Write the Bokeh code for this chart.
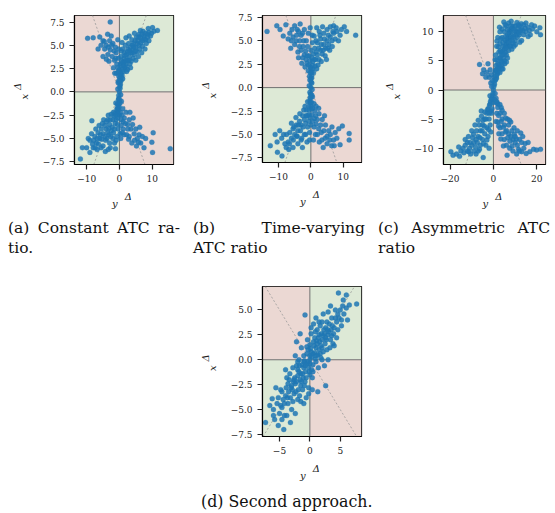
from bokeh.plotting import figure
from bokeh.models import BoxAnnotation, Span, Slope, FixedTicker, Range1d, Div, Spacer, Title
from bokeh.layouts import row, column
from bokeh.embed import file_html
from bokeh.resources import INLINE

# ---------------- data ----------------
a_pts = [
 (0,0),(0.2,0.4),(-0.2,-0.4),(0.3,0.8),(-0.3,-0.8),(0.5,1.2),(-0.4,1.0),(0.6,-1.0),(-0.6,-1.3),(0.1,1.5),(-0.1,-1.6),(0.8,1.8),(-0.8,-1.9),(1.0,1.4),(-1.1,-1.2),(0.4,-0.3),(-0.5,0.3),(1.2,2.2),(-1.3,-2.3),(-0.9,2.0),(1.0,-1.8),(0.0,2.4),(0.0,-2.5),(1.6,2.6),(-1.7,-2.6),
 (0.1,0.6),(-0.1,-0.7),(0.3,1.3),(-0.3,-1.4),(0.5,2.0),(-0.5,-2.1),(0.0,1.0),(0.0,-1.0),(0.6,1.6),(-0.6,-1.7),(-0.2,1.2),(0.2,-1.2),
 (2.0,3.0),(2.5,3.4),(1.5,3.2),(3.0,3.8),(2.2,4.0),(3.5,4.2),(4.0,4.5),(3.2,3.0),(4.5,4.0),(5.0,4.8),(5.5,5.2),(4.8,5.5),(6.0,5.0),(6.5,5.8),(7.0,5.5),(7.5,6.0),(8.0,5.6),(8.5,6.2),(9.0,6.4),(9.5,6.0),(10.1,6.9),(11.6,6.6),(10.5,6.5),(7.2,6.5),(6.0,6.2),(5.2,5.9),(3.8,5.6),(2.8,5.2),(1.8,5.0),(1.0,4.6),(0.5,3.8),(0.8,5.3),(1.5,4.2),(2.5,2.4),(3.6,3.3),(4.2,3.6),(5.4,4.3),(6.2,4.6),(7.0,4.9),(8.2,5.2),(9.0,5.5),(4.6,6.3),(3.0,6.0),(2.0,5.8),(5.8,3.8),(6.8,4.2),(3.4,2.6),(1.2,2.8),(0.3,3.0),(0.6,4.4),(2.6,4.6),(4.0,5.0),(5.0,3.4),(7.8,4.6),(8.8,6.8),(9.8,6.3),(6.4,6.6),(1.4,3.6),(2.2,2.2),(0.9,2.4),
 (0.2,1.9),(-0.2,1.7),(0.4,2.8),(-0.5,2.6),(0.7,3.3),(1.7,3.9),(2.4,4.3),(3.3,4.8),(4.3,5.2),(5.6,5.5),(6.6,5.3),(7.6,5.7),(8.6,5.9),(3.9,4.2),(4.9,4.4),(2.9,3.4),(1.9,2.7),(5.9,5.9),(6.9,6.2),(7.9,6.3),(1.1,3.2),(2.1,3.4),(3.1,4.4),(4.4,4.8),
 (-0.8,3.0),(-1.5,3.4),(-2.2,3.8),(-1.0,4.2),(-2.8,4.5),(-3.5,4.0),(-4.0,5.0),(-3.0,5.5),(-2.0,5.2),(-5.0,5.5),(-6.0,5.9),(-9.7,5.75),(-8.0,5.8),(-4.5,4.6),(-5.0,3.8),(-3.2,3.3),(-1.8,2.6),(-2.5,6.0),(-0.5,5.6),(-1.2,4.8),(-4.0,3.5),(-6.5,4.6),(-2.8,7.5),(-0.3,2.2),(-1.4,2.0),(-3.6,6.2),(-5.6,5.0),
 (-0.3,3.6),(-1.1,3.6),(-1.6,4.4),(-2.4,5.0),(-3.4,4.8),(-4.6,5.4),(-0.2,4.6),
 (-2.0,-3.0),(-2.5,-2.4),(-3.0,-3.5),(-3.5,-3.0),(-4.0,-4.0),(-4.5,-3.6),(-5.0,-4.5),(-5.5,-4.0),(-6.0,-5.0),(-6.5,-4.4),(-7.0,-5.5),(-7.5,-4.8),(-8.0,-6.0),(-8.4,-3.1),(-9.0,-5.2),(-10.0,-6.0),(-11.3,-6.0),(-11.9,-7.2),(-4.3,-6.4),(-1.2,-6.1),(-3.0,-5.5),(-2.0,-5.0),(-1.5,-4.0),(-1.0,-3.0),(-0.5,-2.8),(-0.8,-4.8),(-2.5,-4.2),(-3.8,-5.0),(-5.0,-5.8),(-6.2,-3.6),(-7.2,-4.0),(-8.5,-4.5),(-9.5,-5.0),(-4.8,-3.0),(-3.4,-2.5),(-1.8,-2.2),(-6.8,-6.2),(-5.6,-6.0),(-2.8,-6.0),(-4.2,-5.2),(-3.2,-4.6),(-1.5,-5.5),(-0.4,-4.0),(-0.6,-3.5),(-7.8,-5.2),(-9.0,-6.5),(-5.2,-3.4),
 (-0.3,-1.9),(-0.5,-2.3),(-1.3,-3.4),(-2.2,-3.8),(-2.8,-3.0),(-3.6,-4.4),(-4.4,-4.8),(-5.4,-5.1),(-6.4,-5.6),(-7.4,-6.0),(-3.2,-3.9),(-4.0,-3.2),(-5.8,-4.6),(-6.8,-5.0),(-2.6,-4.8),(-1.8,-4.4),(-1.0,-5.2),(-3.4,-6.2),(-8.2,-5.6),(-1.1,-2.5),
 (0.8,-2.5),(1.5,-2.8),(2.0,-2.2),(2.5,-3.5),(3.0,-3.0),(3.5,-4.0),(4.0,-3.5),(4.5,-4.5),(5.0,-4.0),(5.5,-5.0),(6.0,-4.6),(6.5,-5.5),(7.0,-4.8),(2.8,-5.1),(10.3,-4.4),(9.9,-5.4),(10.1,-6.5),(15.5,-6.1),(1.2,-4.0),(0.5,-3.6),(2.2,-4.6),(3.8,-5.5),(5.2,-5.8),(0.4,-5.0),(1.8,-3.4),(4.2,-2.8),(6.2,-3.8),(8.0,-5.0),(7.5,-6.0),(3.2,-2.2),
 (0.3,-2.2),(0.6,-3.0),(1.1,-3.2),(1.4,-4.6),(2.6,-4.0),(3.0,-4.8),(4.6,-5.2),(5.8,-5.4),(0.9,-4.4),(0.2,-4.5),
]
b_pts = [
 (0,0),(0.3,0.5),(-0.3,-0.5),(0.2,1.0),(-0.4,1.2),(0.5,-1.0),(-0.2,-1.1),(0.8,1.6),(-0.8,1.8),(0.9,-1.7),(-1.0,-1.5),(0.1,2.0),(0.0,-2.0),(1.3,2.3),(-1.4,-2.4),(-1.2,2.6),(1.2,-2.5),(0.4,-0.2),(-0.5,0.2),(0.6,2.8),(-0.6,-2.9),
 (0.1,0.6),(-0.1,-0.7),(0.3,1.3),(-0.3,-1.4),(0.0,1.0),(0.0,-1.0),(-0.2,1.6),(0.2,-1.6),(0.6,2.0),(-0.6,-2.0),(-0.3,0.8),(0.3,-0.8),
 (1.5,3.0),(2.0,3.5),(2.5,3.0),(3.0,4.0),(3.5,3.6),(4.0,4.6),(4.5,4.2),(5.0,5.0),(5.5,4.6),(6.0,5.4),(6.5,5.0),(7.0,5.8),(7.5,5.2),(8.0,6.0),(9.0,5.6),(10.3,6.5),(13.8,5.6),(11.0,6.0),(2.0,4.8),(1.2,4.2),(0.8,3.6),(3.0,5.2),(4.0,5.8),(5.0,6.2),(6.0,6.5),(2.2,2.4),(3.2,2.8),(4.4,3.4),(5.8,4.0),(1.0,5.5),(0.5,4.8),(2.6,6.0),(3.6,6.5),(7.0,6.6),(8.5,5.0),(4.8,3.0),(1.8,2.0),(6.6,4.4),
 (-1.5,3.0),(-2.0,3.5),(-2.5,3.2),(-3.0,4.0),(-3.5,4.4),(-4.0,3.8),(-4.5,5.0),(-5.0,4.6),(-5.5,5.4),(-6.0,5.0),(-6.5,5.8),(-7.0,5.2),(-7.7,6.7),(-3.3,6.8),(-13.5,6.0),(-9.5,6.2),(-8.5,5.5),(-2.2,5.0),(-1.0,4.4),(-3.0,5.6),(-4.2,6.2),(-5.0,6.6),(-2.8,2.6),(-1.8,2.2),(-0.6,3.4),(-0.8,5.8),(-6.2,4.2),(-3.8,3.2),(-10.5,6.6),(-2.0,6.2),
 (0.2,1.6),(-0.2,2.2),(0.5,2.4),(-0.7,2.4),(0.3,3.2),(-0.3,2.9),(1.1,3.0),(-1.1,3.4),(1.6,3.8),(-1.6,3.9),(2.4,4.2),(-2.4,4.4),(3.2,4.6),(-3.4,5.0),(4.2,5.2),(-4.4,5.6),(5.4,5.6),(-5.8,6.2),(6.8,6.0),(0.0,4.0),(0.4,5.6),(1.6,5.0),(2.8,5.6),(3.8,4.0),(5.2,4.2),(-1.4,5.0),(-2.6,5.8),(-3.8,6.0),(-0.2,6.4),(1.8,6.4),(7.8,6.4),(9.4,6.2),
 (-1.5,-3.0),(-2.0,-3.4),(-2.5,-3.0),(-3.0,-4.0),(-3.5,-3.6),(-4.0,-4.6),(-4.5,-4.0),(-5.0,-5.0),(-5.5,-4.4),(-6.0,-5.4),(-6.5,-4.8),(-7.0,-5.8),(-7.5,-5.0),(-8.0,-6.0),(-9.0,-5.4),(-12.5,-6.2),(-10.3,-6.9),(-8.9,-7.3),(-11.0,-5.0),(-2.0,-5.0),(-1.0,-4.2),(-0.6,-3.6),(-3.0,-5.6),(-4.0,-6.0),(-5.5,-6.4),(-2.2,-2.4),(-3.4,-2.8),(-4.6,-3.2),(-6.0,-3.8),(-1.2,-5.8),(-0.4,-4.8),(-2.6,-6.4),(-6.8,-6.6),(-9.6,-4.6),(-4.4,-5.2),(-1.8,-2.0),
 (-0.2,-1.6),(0.2,-2.3),(-0.6,-2.4),(0.6,-2.2),(-0.3,-3.2),(0.3,-2.9),(-1.1,-3.0),(1.1,-3.3),(-1.6,-3.8),(1.6,-3.9),(-2.4,-4.2),(2.4,-4.4),(-3.2,-4.6),(3.2,-4.8),(-4.2,-5.2),(4.4,-5.4),(-5.4,-5.6),(-6.6,-6.0),(-7.6,-6.4),(0.0,-4.0),(-0.4,-5.6),(-1.6,-5.0),(-2.8,-5.4),(-3.8,-4.0),(-5.2,-4.2),(1.4,-5.0),(2.6,-5.8),(5.8,-5.6),(7.2,-6.2),(-8.4,-5.0),(-10.4,-5.8),
 (1.5,-3.0),(2.0,-3.4),(2.5,-2.8),(3.0,-4.0),(3.5,-3.4),(4.0,-4.6),(4.5,-4.0),(5.0,-5.2),(5.5,-4.6),(6.0,-5.0),(6.5,-4.2),(7.0,-5.6),(7.5,-4.8),(8.0,-5.4),(9.7,-4.1),(11.8,-4.9),(11.8,-5.6),(9.0,-6.1),(2.0,-5.0),(1.0,-4.2),(0.6,-3.6),(3.4,-5.6),(5.0,-6.0),(2.4,-2.2),(4.2,-3.0),(0.8,-5.6),(6.4,-6.2),(8.6,-4.4),(1.6,-2.0),(3.8,-6.4),
]
c_pts = [
 (0,0),(0.5,1.0),(-0.5,-1.0),(1.0,1.8),(-1.0,-1.6),(0.3,2.2),(-0.3,-2.2),(1.2,-1.4),(-1.2,1.2),(1.8,2.8),(-1.8,-2.6),(2.0,-2.4),(0.8,-0.6),(-0.8,0.6),(0.6,3.0),(-0.6,-3.2),(2.4,3.6),(-2.6,-3.4),
 (0.2,0.6),(-0.2,-0.6),(0.6,1.5),(-0.6,-1.5),(1.4,2.0),(-1.4,-2.0),(0.4,-1.6),(-0.4,1.6),(1.0,3.4),(-1.0,-3.6),(1.6,-2.0),(-1.6,-1.0),
 (3,4),(3.5,5),(4,6),(4.5,5.5),(5,7),(5.5,6.5),(6,8),(6.5,7.5),(7,9),(7.5,8.5),(8,10),(8.5,9),(9,10.5),(9.5,9.5),(10,11),(11,10),(12,11),(13,10.5),(14,11.2),(15,10),(16,10.8),(17,9.5),(18,10.5),(20,10),(21.7,9.5),(21.4,10.7),(4.8,11.7),(8.2,11.8),(2,4.5),(1.5,5.2),(2.5,6.5),(3,8),(4,9),(5,10),(6,11),(7,11.5),(2.2,3.2),(4,4.2),(5,5),(6,6),(7,6.8),(8,7.5),(9,8),(10,8.5),(11,9),(12,9.5),(13,8.5),(10.5,10),(11.5,11.2),(9,11),(6.5,9.5),(5.5,8.5),(4.5,7.5),(3.5,6.5),(2.8,5.5),(1.2,4.2),(1.0,6),(1.5,7.5),(2,9),(3,10),(4,10.5),(7.5,10.2),(8.5,7),(9.5,7.5),(6.5,5.5),(5.2,4.5),(3.8,3.6),(14,9.5),(16,9.2),(12.5,10.2),(15,11.5),(19,11),
 (1.5,2.5),(2,3.8),(2.6,4.4),(3.2,5.6),(3.8,4.8),(4.2,6.6),(4.8,6.2),(5.4,7.6),(5.8,7.2),(6.2,8.8),(6.8,8.2),(7.2,9.8),(7.8,9.2),(8.4,10.6),(8.8,8.4),(9.8,10.2),(10.4,9.4),(11.2,10.6),(11.8,9.8),(12.8,11.4),(13.6,10.2),(14.6,10.6),(16.6,10.2),(17.6,11.2),(2.4,7.4),(3.4,8.8),(3.2,6.8),(4.4,8.2),(5.6,9.2),(6.4,10.4),(5.4,11.2),(2.8,10.8),(1.6,8.4),(0.8,5.2),(1.2,3.4),(3.0,3.0),(4.4,3.6),(6.0,4.8),(7.6,7.6),(10.2,7.8),(12.2,8.2),(9.2,9.2),(10.8,11.6),(8.0,11.0),
 (-6.4,4.4),(-3,3),(-2,2.2),(-4.5,3.5),(-1.5,3.5),(-2.5,4.5),(-1.0,2.6),(-5.0,2.8),(-3.5,2.2),
 (-3,-4),(-4,-5),(-5,-6),(-6,-7),(-7,-8),(-8,-8.5),(-9,-9),(-10,-9.5),(-11,-10),(-12,-10.5),(-13,-9.5),(-14,-10),(-15,-10.5),(-16,-9.8),(-17,-11),(-18.6,-11.2),(-19.6,-10.6),(-4.7,-11.6),(-2,-5),(-3,-6.5),(-4,-7.5),(-5,-8.5),(-6,-9.5),(-7,-10.5),(-8,-11),(-2.5,-3.2),(-4,-3.8),(-5.5,-4.5),(-7,-5.2),(-8.5,-6),(-10,-7),(-11.5,-8),(-13,-8.5),(-1,-4),(-1.5,-6),(-2.5,-8),(-3.5,-9.5),(-9,-10.5),(-6.5,-6),(-4.8,-5.2),(-12,-9),(-10.5,-11),
 (-1.5,-2.4),(-2,-4),(-3.4,-5.0),(-4.2,-6.2),(-5.2,-7.0),(-6.2,-8.2),(-7.4,-9.0),(-8.2,-9.8),(-9.6,-8.2),(-10.8,-9.0),(-11.4,-10.6),(-13.6,-10.8),(-15.6,-11.4),(-3.0,-8.6),(-4.6,-9.2),(-6.4,-10.2),(-2.2,-6.8),(-1.2,-7.2),(-2.0,-10),(-5.6,-3.6),(-7.8,-7.0),(-9.2,-7.6),
 (2,-3),(3,-4),(4,-5),(5,-6),(6,-7),(7,-7.5),(8,-8),(9,-8.5),(10,-9),(11,-9.5),(12,-8.5),(13,-9),(14,-10),(15.1,-10.9),(18.5,-10.2),(19.9,-10.3),(21.7,-10.2),(6.3,-11.2),(10.7,-11),(3,-2.5),(4,-3.5),(5,-4),(6.5,-5),(8,-5.5),(9.5,-6.5),(11,-7),(1.5,-4),(2,-5.5),(3,-6.5),(4,-7.5),(5,-8.5),(6,-9.5),(7.5,-10),(9,-10.5),(12,-10.5),(16,-9),(7,-6),(8.5,-7),(10,-8),(13.5,-8),(2.5,-7.5),
 (1.5,-2.2),(2.4,-4.4),(3.6,-5.4),(4.6,-6.4),(5.6,-7.2),(6.6,-8.2),(7.6,-8.8),(8.6,-9.6),(9.6,-7.6),(10.6,-8.4),(11.6,-10.2),(13,-10.6),(3.6,-3.0),(5.6,-4.8),(7.4,-5.2),(2.4,-6.2),(3.4,-8.4),(4.6,-9.6),(1.2,-5.4),(16.8,-10.6),(12.6,-7.4),(14.6,-9.2),
]
d_pts = [
 (0,0),(0.5,0.6),(-0.5,-0.4),(1,1.2),(-1,-0.8),(1.5,1.0),(-1.5,-1.4),(2,2.0),(-2,-1.6),(0.5,-0.5),(-0.5,0.6),(1,-0.2),(-1,0.4),(0,1.5),(0,-1.5),(1.5,2.5),(-1.5,-2.6),(2.5,1.6),(-2.5,-1.8),(0.8,2.2),(-0.8,-2.2),(2.2,0.8),(-2.2,-0.6),(3,2.5),(-3,-2.6),(2.6,3.2),(-2.6,-3.4),(3.4,2.0),(-3.4,-2.0),(1.2,3.0),(-1.2,-3.0),(0.2,2.6),(-0.2,-2.8),(1.8,0.2),(-1.8,0.0),(3.2,3.6),(-3.2,-3.8),(4,3.2),(-4,-3.6),(3.6,4.2),(-3.6,-4.4),(4.4,3.8),(-4.4,-4.0),(2.0,3.8),(-2.0,-4.0),(0.6,3.6),(-0.6,-3.8),(2.8,1.0),(-2.8,-0.8),(1.4,-0.8),(-1.4,1.2),(0.4,-1.8),(-0.4,2.0),(4.8,4.2),(-4.8,-4.6),(5.0,5.0),(-5.0,-5.4),(4.2,5.0),(-4.2,-5.6),(5.6,4.6),(-5.2,-3.8),(3.0,4.8),(-3.0,-5.0),(2.4,-0.6),(-2.4,0.4),(3.8,1.6),(-3.8,-1.8),(1.0,4.2),(-1.0,-4.4),
 (0.2,0.8),(-0.2,-0.8),(0.9,0.1),(-0.9,-0.1),(1.6,1.8),(-1.6,-2.0),(2.4,2.6),(-2.4,-2.4),(0.3,-1.0),(-0.3,1.0),(1.3,0.5),(-1.3,-0.5),(2.0,1.2),(-2.0,-1.0),(1.1,1.9),(-1.1,-1.8),(2.9,3.0),(-2.9,-3.0),(3.5,3.0),(-3.5,-3.2),(0.7,1.4),(-0.7,-1.2),(1.9,2.6),(-1.9,-3.0),(0.0,0.4),(0.0,-0.4),(2.7,2.0),(-2.7,-2.2),(1.7,3.4),(-1.7,-3.6),(3.9,2.6),(-3.9,-2.8),(4.6,3.0),(-4.6,-3.2),(3.3,1.2),(-3.3,-1.4),
 (0.3,0.3),(-0.3,-0.2),(0.8,0.7),(-0.8,-0.6),(1.2,1.6),(-1.2,-1.4),(1.8,1.4),(-1.8,-1.2),(2.2,2.4),(-2.2,-2.2),(0.6,1.8),(-0.6,-1.8),(1.4,2.2),(-1.4,-2.2),(2.6,2.2),(-2.6,-2.0),(0.1,1.1),(-0.1,-1.2),(1.7,0.6),(-1.7,-0.6),(3.1,2.8),(-3.1,-2.8),(0.9,2.8),(-0.9,-2.6),(2.3,3.0),(-2.3,-3.2),(3.7,3.4),(-3.7,-3.8),(4.2,4.2),(-4.2,-4.4),(0.5,-1.2),(-0.5,1.3),(1.0,0.4),(-1.0,-0.2),(2.0,0.0),(-2.0,-0.2),(2.8,3.8),(-2.8,-4.2),(3.6,2.4),(-3.6,-2.4),(4.6,4.6),(-4.6,-4.8),(1.5,3.8),(-1.5,-4.2),(0.2,3.2),(-0.2,-3.4),(5.2,4.0),(-5.4,-4.4),(3.4,5.4),(-3.8,-5.6),(6.0,5.2),(-6.0,-5.6),(2.2,4.6),(-2.4,-5.4),(4.4,2.2),(-4.8,-3.0),
 (-7.3,-6.3),(7.7,5.6),(4.7,6.7),(6.0,6.5),(-0.8,4.5),(-5.2,-6.6),(-4.3,-7.0),(-6.2,-3.9),(-3.2,-6.3),(1.3,-3.2),(2.6,-2.6),(6.5,5.5),(5.5,6.0),(-6,-5),(-5.8,-6.0),(6.2,4.0),(-6.6,-4.6),(5.2,3.4),(-5.6,-2.8),(0.4,-3.0),(-1.6,2.6),(3.0,0.0),(-2.2,1.8),(4.0,1.4),(-4.0,-1.0),(5.4,5.4),(-4.6,-6.0),
]

a_x = [p[0] for p in a_pts]; a_y = [p[1] for p in a_pts]
b_x = [p[0] for p in b_pts]; b_y = [p[1] for p in b_pts]
c_x = [p[0] for p in c_pts]; c_y = [p[1] for p in c_pts]
d_x = [p[0] for p in d_pts]; d_y = [p[1] for p in d_pts]

a_xticks = [-10, 0, 10]; a_yticks = [-7.5, -5.0, -2.5, 0.0, 2.5, 5.0, 7.5]
b_xticks = [-10, 0, 10]; b_yticks = [-7.5, -5.0, -2.5, 0.0, 2.5, 5.0, 7.5]
c_xticks = [-20, 0, 20]; c_yticks = [-10, -5, 0, 5, 10]
d_xticks = [-5, 0, 5];   d_yticks = [-7.5, -5.0, -2.5, 0.0, 2.5, 5.0]

NB = "\u00a0"
x_title = NB * 4 + "\u0394\ny"      # y^Δ : raised Δ on the first line
y_title = NB * 3 + "\u0394\nx"      # x^Δ
captions = [("(a) Constant ATC ra-", "tio."),
            ("(b) Time-varying", "ATC ratio"),
            ("(c) Asymmetric ATC", "ratio")]
caption_d = "(d) Second approach."

PINK = "#ebd8d3"
GREEN = "#dde9d6"
BLUE = "#1f77b4"
SERIF = "DejaVu Serif"
HAS_LH = "text_line_height" in Title.properties()


def lab(v, dec):
    s = f"{v:.1f}" if dec else f"{int(v)}"
    return s.replace("-", "\u2212")


def axis_title(text, offset, standoff):
    t = Title(text=text, align="left", offset=offset, standoff=standoff,
              text_font=SERIF, text_font_size="10px", text_font_style="italic",
              text_color="#222222")
    if HAS_LH:
        t.text_line_height = 0.6
    return t


def panel(xs, ys, xr, yr, xt, yt, ydec, bl, br, bt, fw, fh, bb):
    p = figure(frame_width=fw, frame_height=fh, min_border_left=bl, min_border_right=br,
               min_border_top=bt, min_border_bottom=bb,
               x_range=Range1d(*xr), y_range=Range1d(*yr),
               output_backend="svg", toolbar_location=None, tools="")
    p.title.visible = False
    p.grid.visible = False
    p.background_fill_color = "white"
    p.border_fill_color = "white"
    p.outline_line_color = "black"
    p.outline_line_width = 1.2
    for kw, col in [(dict(right=0, bottom=0), PINK), (dict(left=0, bottom=0), GREEN),
                    (dict(right=0, top=0), GREEN), (dict(left=0, top=0), PINK)]:
        p.add_layout(BoxAnnotation(fill_color=col, fill_alpha=1.0, line_color=None,
                                   level="underlay", **kw))
    p.add_layout(Span(location=0, dimension="width", line_color="#707070", line_width=1, level="underlay"))
    p.add_layout(Span(location=0, dimension="height", line_color="#707070", line_width=1, level="underlay"))
    p.add_layout(Slope(gradient=1, y_intercept=0, line_color="#9a9a9a", line_width=0.8,
                       line_dash="2 2", level="underlay"))
    p.add_layout(Slope(gradient=-1, y_intercept=0, line_color="#9a9a9a", line_width=0.8,
                       line_dash="2 2", level="underlay"))
    p.scatter(xs, ys, size=5, fill_color=BLUE, line_color=BLUE, fill_alpha=0.85,
              line_alpha=0.85, line_width=0.3)
    p.xaxis.ticker = FixedTicker(ticks=xt)
    p.yaxis.ticker = FixedTicker(ticks=yt)
    p.xaxis.major_label_overrides = {t: lab(t, False) for t in xt}
    p.yaxis.major_label_overrides = {t: lab(t, ydec) for t in yt}
    for ax in (p.xaxis, p.yaxis):
        ax.minor_tick_line_color = None
        ax.major_tick_in = 0
        ax.major_tick_out = 5
        ax.major_tick_line_color = "#222222"
        ax.major_tick_line_width = 1.2
        ax.axis_line_color = "black"
        ax.axis_line_width = 1.2
        ax.major_label_text_font = SERIF
        ax.major_label_text_font_size = "9px"
        ax.major_label_text_color = "#222222"
        ax.major_label_standoff = 5
    p.add_layout(axis_title(x_title, fw / 2 - 12, 9), "below")
    p.add_layout(axis_title(y_title, fh / 2 - 9.5, 19), "left")
    return p


pa = panel(a_x, a_y, (-13.7, 16.5), (-7.8, 8.2), a_xticks, a_yticks, True, 74, 12, 13, 99, 149, 53)
pb = panel(b_x, b_y, (-14.9, 15.6), (-8.0, 7.7), b_xticks, b_yticks, True, 77, 8, 15, 99, 147, 53)
pc = panel(c_x, c_y, (-23.0, 24.0), (-12.8, 12.8), c_xticks, c_yticks, False, 74, 9, 13, 102, 149, 53)
pd = panel(d_x, d_y, (-7.8, 8.5), (-7.7, 7.35), d_xticks, d_yticks, True, 77, 8, 13, 99, 150, 53)

CAP_STYLE = "font-family:'DejaVu Serif';font-size:15.5px;line-height:20px;color:#111;"


def cap_div(l1, l2):
    html = (f'<div style="width:172px;margin-left:8px;padding-top:3px;{CAP_STYLE}">'
            f'<div style="text-align:justify;text-align-last:justify;white-space:nowrap;">{l1}</div>'
            f'<div style="white-space:nowrap;">{l2}</div></div>')
    return Div(text=html, width=185, height=58, margin=0)


caps = row(*[cap_div(l1, l2) for l1, l2 in captions], spacing=0)
capd = Div(text=f'<div style="margin-left:201px;padding-top:3px;white-space:nowrap;{CAP_STYLE}font-size:15.8px;">{caption_d}</div>',
           width=555, height=24, margin=0)

layout = column(row(pa, pb, pc, spacing=0), caps,
                row(Spacer(width=185, height=216), pd, spacing=0),
                capd, spacing=0)

open("out.html", "w").write(file_html(layout, INLINE))
